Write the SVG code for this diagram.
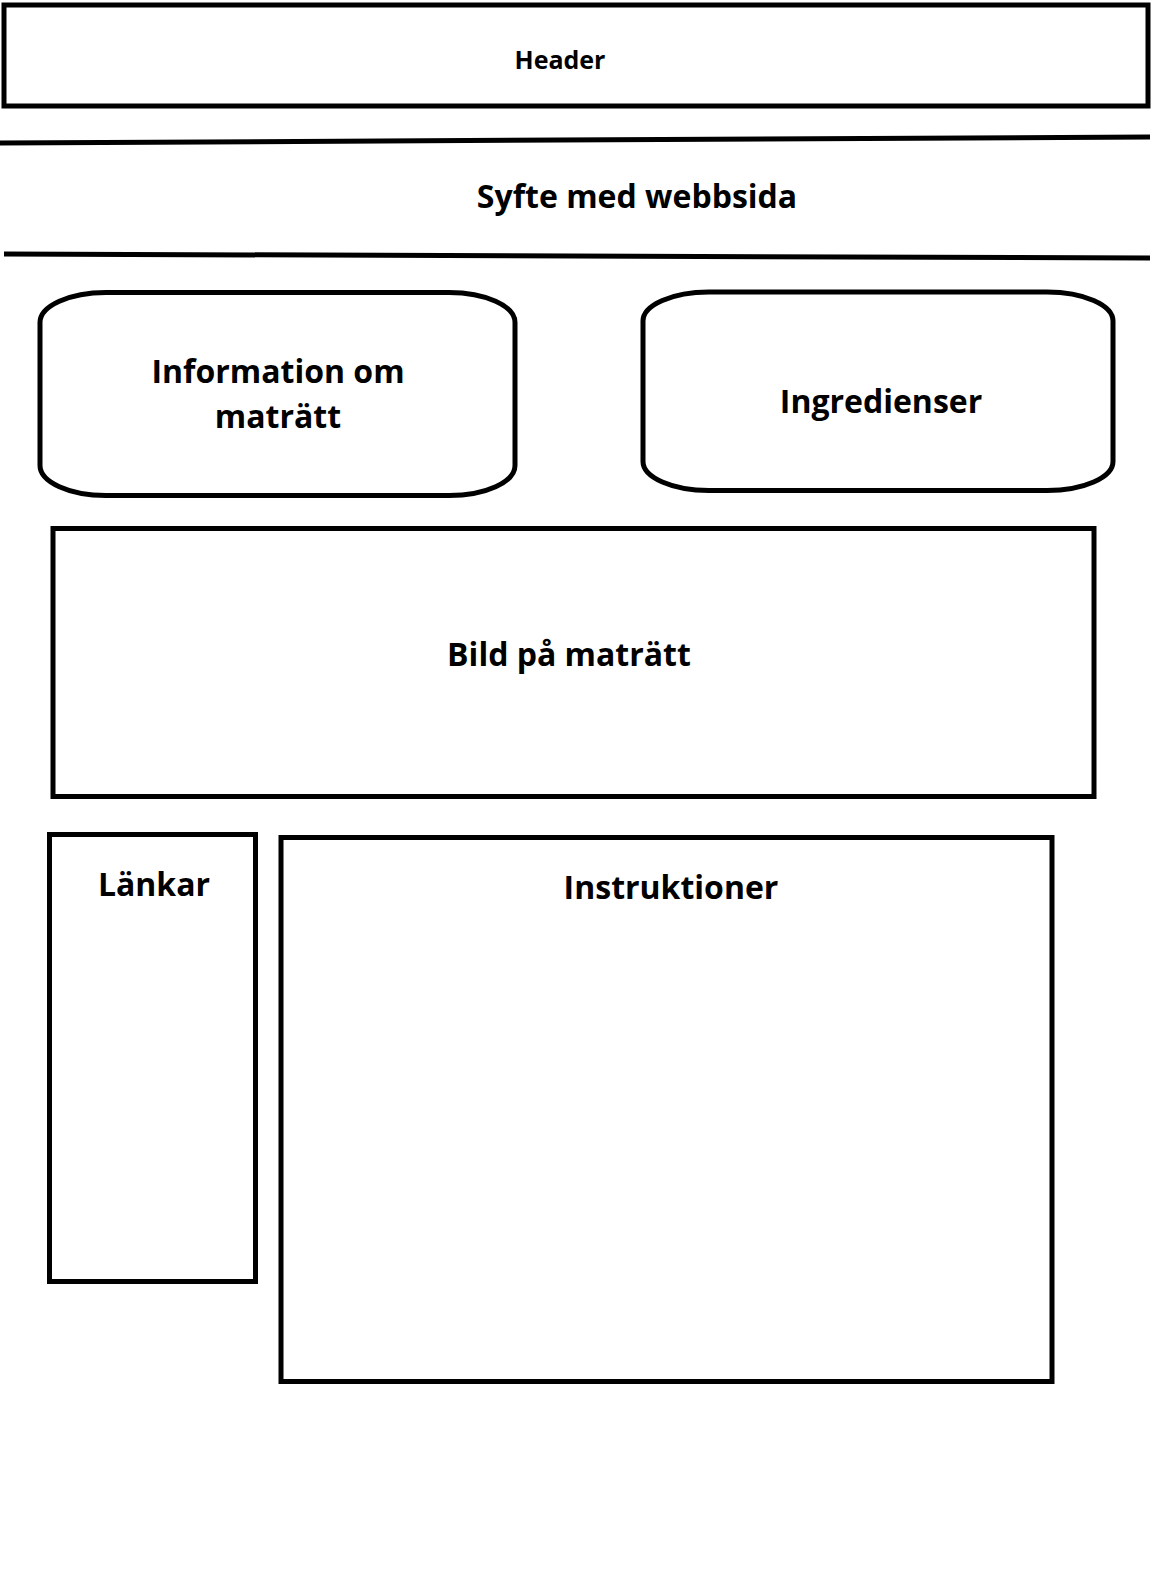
<svg xmlns="http://www.w3.org/2000/svg" width="1152" height="1584" viewBox="0 0 1152 1584">
  <style>
    .box { fill: #ffffff; stroke: #000000; stroke-width: 5; }
    .rule { stroke: #000000; stroke-width: 5; fill: none; }
    .lbl { font-family: "Open Sans", "Noto Sans", "Liberation Sans", sans-serif; font-weight: 700; font-size: 32px; fill: #000000; text-anchor: middle; }
    .small { font-size: 25px; }
  </style>
  <rect width="1152" height="1584" fill="#ffffff"/>

  <!-- Page header bar -->
  <g id="header">
    <rect class="box" x="4" y="5" width="1144" height="101"/>
    <text class="lbl small" x="560" y="69">Header</text>
  </g>

  <!-- Purpose band between two rules -->
  <g id="syfte">
    <line class="rule" x1="0" y1="143" x2="1150" y2="137"/>
    <line class="rule" x1="4" y1="254" x2="1150" y2="258"/>
    <text class="lbl" x="637" y="208">Syfte med webbsida</text>
  </g>

  <!-- Dish information panel -->
  <g id="information">
    <rect class="box" x="40" y="292.5" width="475" height="203" rx="66" ry="30"/>
    <text class="lbl" x="278" y="383">Information om</text>
    <text class="lbl" x="278" y="428">maträtt</text>
  </g>

  <!-- Ingredients panel -->
  <g id="ingredienser">
    <rect class="box" x="643" y="292" width="470" height="198.5" rx="66" ry="29"/>
    <text class="lbl" x="881" y="413">Ingredienser</text>
  </g>

  <!-- Dish picture area -->
  <g id="bild">
    <rect class="box" x="53" y="528.5" width="1041" height="268"/>
    <text class="lbl" x="569" y="666">Bild på maträtt</text>
  </g>

  <!-- Links sidebar -->
  <g id="lankar">
    <rect class="box" x="49.5" y="834.5" width="206" height="447"/>
    <text class="lbl" x="154" y="896">Länkar</text>
  </g>

  <!-- Instructions area -->
  <g id="instruktioner">
    <rect class="box" x="281" y="837.5" width="771" height="544"/>
    <text class="lbl" x="671" y="899">Instruktioner</text>
  </g>

  <g id="connectors"></g>
</svg>
